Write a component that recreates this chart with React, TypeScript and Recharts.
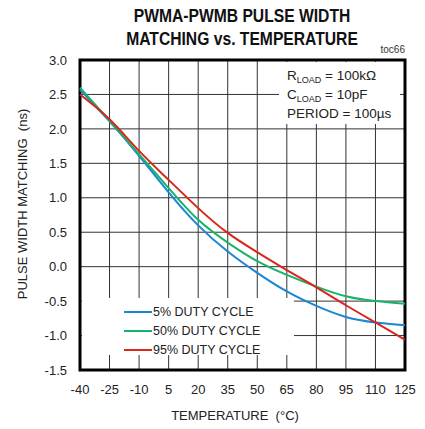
import { LineChart, Line, XAxis, YAxis, CartesianGrid, ReferenceArea } from "recharts";

// temperature (°C) and pulse width matching (ns)
const temps = [-40, -25, -10, 5, 20, 35, 50, 65, 80, 95, 110, 125];
const duty5 = [2.57, 2.11, 1.61, 1.08, 0.6, 0.22, -0.09, -0.36, -0.57, -0.73, -0.81, -0.85];
const duty50 = [2.6, 2.12, 1.63, 1.14, 0.68, 0.35, 0.08, -0.12, -0.29, -0.43, -0.5, -0.54];
const duty95 = [2.5, 2.14, 1.68, 1.26, 0.85, 0.49, 0.21, -0.05, -0.3, -0.56, -0.81, -1.06];

const xTicks = [-40, -25, -10, 5, 20, 35, 50, 65, 80, 95, 110, 125];
const yTicks = [-1.5, -1, -0.5, 0, 0.5, 1, 1.5, 2, 2.5, 3];

const series = [
  { key: "d5", name: "5% DUTY CYCLE", color: "#1a86d6" },
  { key: "d50", name: "50% DUTY CYCLE", color: "#16b46a" },
  { key: "d95", name: "95% DUTY CYCLE", color: "#d8261b" },
];

const data = temps.map((t, i) => ({ t, d5: duty5[i], d50: duty50[i], d95: duty95[i] }));

const font = "'Liberation Sans', Arial, sans-serif";
const tickStyle = { fontSize: 13, fill: "#222", fontFamily: font };
const subStyle = { fontSize: 9, position: "relative" as const, top: 3 };

export default function App() {
  return (
    <div style={{ position: "absolute", left: 0, top: 0, width: 425, height: 429, background: "#fff", fontFamily: font, color: "#222" }}>
      <div style={{ position: "absolute", left: 0, width: 484, top: 5, textAlign: "center", fontWeight: "bold", fontSize: 18, lineHeight: "23px", color: "#111", transform: "scaleX(0.87)", transformOrigin: "242px 0" }}>
        PWMA-PWMB PULSE WIDTH<br />MATCHING vs. TEMPERATURE
      </div>
      <div style={{ position: "absolute", right: 20, top: 44, fontSize: 10, color: "#333" }}>toc66</div>

      <LineChart width={425} height={429} data={data} margin={{ top: 60, right: 20, bottom: 0, left: 0 }}>
        <CartesianGrid stroke="#333" strokeWidth={1} horizontalValues={yTicks} verticalValues={xTicks} />
        <XAxis
          dataKey="t"
          type="number"
          domain={[-40, 125]}
          ticks={xTicks}
          height={59}
          axisLine={false}
          tickLine={false}
          tickSize={0}
          tickMargin={15}
          tick={tickStyle}
          interval={0}
        />
        <YAxis
          type="number"
          domain={[-1.5, 3]}
          ticks={yTicks}
          width={80}
          axisLine={false}
          tickLine={false}
          tickSize={0}
          tickMargin={13}
          tick={tickStyle}
          interval={0}
          tickFormatter={(v: number) => v.toFixed(1)}
        />
        {series.map((s) => (
          <Line key={s.key} dataKey={s.key} type="natural" stroke={s.color} strokeWidth={2} dot={false} isAnimationActive={false} />
        ))}
        <ReferenceArea x1={-40} x2={125} y1={-1.5} y2={3} fill="none" stroke="#000" strokeWidth={3} ifOverflow="visible" />
      </LineChart>

      {/* annotation box */}
      <div style={{ position: "absolute", left: 279, top: 62, width: 121, height: 62, background: "#fff", fontSize: 13.5, paddingLeft: 8, paddingTop: 4, boxSizing: "border-box" }}>
        <div style={{ height: 19, lineHeight: "19px" }}>R<span style={subStyle}>LOAD</span> = 100kΩ</div>
        <div style={{ height: 19, lineHeight: "19px" }}>C<span style={subStyle}>LOAD</span> = 10pF</div>
        <div style={{ height: 19, lineHeight: "19px" }}>PERIOD = 100µs</div>
      </div>

      {/* legend */}
      <div style={{ position: "absolute", left: 82, top: 298, width: 212, height: 57, background: "#fff", paddingTop: 4, boxSizing: "border-box" }}>
        {series.map((s) => (
          <div key={s.key} style={{ display: "flex", alignItems: "center", height: 19, fontSize: 12.5 }}>
            <span style={{ display: "inline-block", marginLeft: 42, width: 28, height: 2, background: s.color }} />
            <span style={{ marginLeft: 1 }}>{s.name}</span>
          </div>
        ))}
      </div>

      <div style={{ position: "absolute", left: 22, top: 204, transform: "translate(-50%, -50%) rotate(-90deg)", whiteSpace: "nowrap", fontSize: 13 }}>
        PULSE WIDTH MATCHING&nbsp; (ns)
      </div>
      <div style={{ position: "absolute", left: 0, width: 470, top: 408, textAlign: "center", fontSize: 13 }}>
        TEMPERATURE&nbsp; (°C)
      </div>
    </div>
  );
}
